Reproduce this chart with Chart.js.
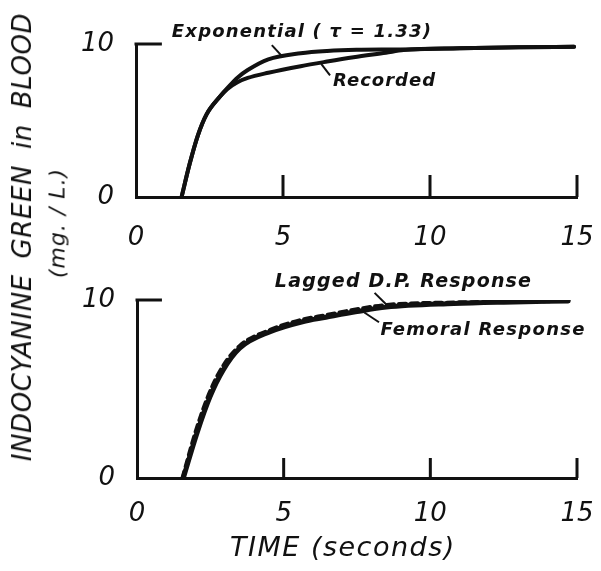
<!DOCTYPE html>
<html>
<head>
<meta charset="utf-8">
<script src="https://cdn.jsdelivr.net/npm/chart.js@4.4.1/dist/chart.umd.min.js"></script>
<style>
  body { margin: 0; background: #fff; }
  #wrap { position: relative; width: 601px; height: 571px; overflow: hidden; background: #fff; }
  canvas { position: absolute; left: 0; }
  .ytitle { position: absolute; transform: translate(-50%, -50%) rotate(-90deg); white-space: nowrap;
            font-family: "DejaVu Sans"; font-style: italic; color: #111; }
</style>
</head>
<body>
<div id="wrap">
  <canvas id="top" width="601" height="260" style="top:0"></canvas>
  <canvas id="bottom" width="601" height="311" style="top:260px"></canvas>
  <div class="ytitle" style="left:22px;top:237px;font-size:26px;letter-spacing:0.6px;word-spacing:7px">INDOCYANINE GREEN in BLOOD</div>
  <div class="ytitle" style="left:57px;top:223px;font-size:22px;letter-spacing:1px">(mg. / L.)</div>
</div>
<script>
// top panel: exponential fit vs recorded curve
const expT = [1.55, 1.83, 2.1, 2.4, 2.85, 3.1, 3.45, 3.8, 4.5, 5.6, 6.5, 7.5, 9, 11, 13, 14.9];
const expV = [0, 2.2, 4.0, 5.4, 6.55, 7.1, 7.8, 8.3, 9.0, 9.4, 9.55, 9.62, 9.64, 9.72, 9.78, 9.82];
const recT = [1.55, 1.83, 2.1, 2.4, 2.85, 3.1, 3.45, 3.8, 4.5, 5.6, 6.5, 7.4, 8.5, 9.1, 11, 13, 14.9];
const recV = [0, 2.2, 4.0, 5.4, 6.55, 7.05, 7.5, 7.78, 8.12, 8.55, 8.85, 9.13, 9.43, 9.6, 9.72, 9.78, 9.82];

// bottom panel: femoral response vs lagged D.P. response
const femT = [1.58, 2.04, 2.49, 2.94, 3.5, 4.54, 5.64, 6.44, 7.5, 8.5, 10.8, 12.5, 14.7];
const femV = [0, 2.5, 4.57, 6.07, 7.29, 8.22, 8.78, 9.03, 9.35, 9.6, 9.8, 9.88, 9.95];
const lagT = [1.55, 2.0, 2.45, 2.9, 3.5, 4.54, 5.64, 6.44, 7.5, 8.5, 10.8, 12.5, 14.7];
const lagV = [0, 2.6, 4.7, 6.2, 7.42, 8.32, 8.9, 9.15, 9.48, 9.72, 9.86, 9.9, 9.95];

const xTicks = [0, 5, 10, 15];
const yTicks = [0, 10];

const INK = '#111';
const pts = (t, v) => t.map((x, i) => ({ x, y: v[i] }));
const tickFont = { family: 'DejaVu Sans', style: 'italic', size: 26 };

const marksPlugin = {
  id: 'marks',
  afterDatasetsDraw(chart, args, o) {
    const { ctx, scales: { x, y } } = chart;
    const X = v => x.getPixelForValue(v), Y = v => y.getPixelForValue(v);
    ctx.save();
    ctx.strokeStyle = INK;
    ctx.fillStyle = INK;
    ctx.lineWidth = 3;
    // inward tick marks on the time axis
    o.ticks.forEach(v => {
      ctx.beginPath();
      ctx.moveTo(X(v), Y(0));
      ctx.lineTo(X(v), Y(0) - o.tickLen);
      ctx.stroke();
    });
    // short stub at the 10 level
    ctx.beginPath();
    ctx.moveTo(X(0) - 1.5, Y(10));
    ctx.lineTo(X(o.stub), Y(10));
    ctx.stroke();
    // curve labels with leader lines
    o.labels.forEach(l => {
      ctx.font = l.font;
      ctx.letterSpacing = l.spacing || '0px';
      ctx.textAlign = l.align || 'left';
      ctx.textBaseline = 'middle';
      ctx.fillText(l.text, X(l.at[0]), Y(l.at[1]));
      if (l.lead) {
        ctx.lineWidth = 2;
        ctx.beginPath();
        ctx.moveTo(X(l.lead[0]), Y(l.lead[1]));
        ctx.lineTo(X(l.lead[2]), Y(l.lead[3]));
        ctx.stroke();
      }
    });
    ctx.restore();
  }
};

function makePanel(id, datasets, cfg) {
  return new Chart(document.getElementById(id), {
    type: 'line',
    data: { datasets },
    options: {
      responsive: false,
      animation: false,
      layout: { padding: { left: 0, top: cfg.top, right: 24, bottom: 0 } },
      plugins: { legend: { display: false }, tooltip: { enabled: false }, marks: cfg.marks },
      elements: { point: { radius: 0 }, line: { cubicInterpolationMode: 'monotone', borderCapStyle: 'round' } },
      scales: {
        x: {
          type: 'linear', min: 0, max: 15,
          afterBuildTicks: s => { s.ticks = xTicks.map(value => ({ value })); },
          afterFit: s => { s.height = cfg.xHeight; s.paddingLeft = 0; s.paddingRight = 0; },
          grid: { display: false },
          border: { display: true, color: INK, width: 3 },
          ticks: { color: INK, font: tickFont, padding: cfg.xPad, maxRotation: 0 }
        },
        y: {
          min: 0, max: 10,
          afterBuildTicks: s => { s.ticks = yTicks.map(value => ({ value })); },
          afterFit: s => { s.width = cfg.yWidth; s.paddingTop = 0; s.paddingBottom = 0; },
          grid: { display: false },
          border: { display: true, color: INK, width: 3 },
          ticks: { color: INK, font: tickFont, padding: 14 }
        }
      }
    },
    plugins: [marksPlugin]
  });
}

const labelFont = 'italic bold 18px "DejaVu Sans"';
const labelFont2 = 'italic bold 19px "DejaVu Sans"';

makePanel('top', [
  { label: 'Exponential (τ = 1.33)', data: pts(expT, expV), borderColor: INK, borderWidth: 4 },
  { label: 'Recorded', data: pts(recT, recV), borderColor: INK, borderWidth: 4 }
], {
  top: 44, xHeight: 63, yWidth: 136, xPad: 18,
  marks: {
    ticks: [5, 10, 15], tickLen: 22, stub: 0.88,
    labels: [
      { text: 'Exponential ( τ = 1.33)', at: [1.22, 10.75], font: labelFont, spacing: '1.2px', lead: [4.62, 9.93, 4.98, 9.17] },
      { text: 'Recorded', at: [6.7, 7.55], font: labelFont, spacing: '1px', lead: [6.3, 8.7, 6.6, 7.95] }
    ]
  }
});

makePanel('bottom', [
  { label: 'Femoral Response', data: pts(femT, femV), borderColor: INK, borderWidth: 5 },
  { label: 'Lagged D.P. Response', data: pts(lagT, lagV), borderColor: INK, borderWidth: 4, borderDash: [7, 5] }
], {
  top: 40, xHeight: 93, yWidth: 137, xPad: 13,
  marks: {
    ticks: [5, 10, 15], tickLen: 20, stub: 0.85,
    labels: [
      { text: 'Lagged D.P. Response', at: [4.7, 11.0], font: labelFont2, spacing: '1.2px', lead: [8.1, 10.4, 8.5, 9.75] },
      { text: 'Femoral Response', at: [8.3, 8.3], font: labelFont, spacing: '1.3px', lead: [7.75, 9.3, 8.25, 8.75] },
      { text: 'TIME (seconds)', at: [7.02, -4.0], font: 'italic 27px "DejaVu Sans"', spacing: '1.5px', align: 'center' }
    ]
  }
});
</script>
</body>
</html>
